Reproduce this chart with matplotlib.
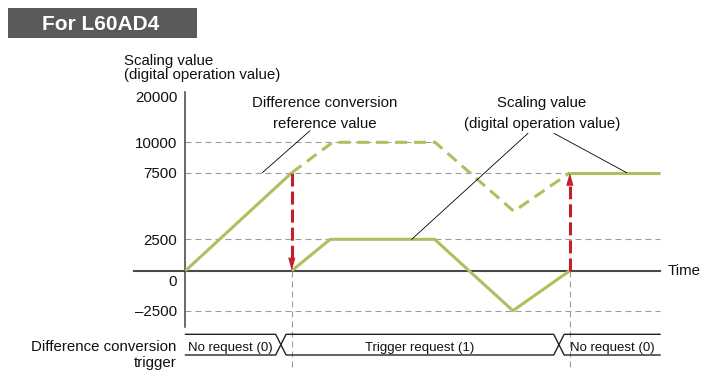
import numpy as np
import matplotlib
matplotlib.use("Agg")
import matplotlib.pyplot as plt
from matplotlib.patches import Rectangle

plt.rcParams['font.family'] = ['Liberation Sans', 'DejaVu Sans']
plt.rcParams['lines.scale_dashes'] = False

# ---------------- data ----------------
t_ramp = [0.0, 22.4]
v_ramp = [0, 7500]
t_scaled = [22.4, 30.5, 52.5, 69.0, 81.0]
v_scaled = [0, 2500, 2500, -2500, 0]
t_hold = [81.0, 100.0]
v_hold = [7500, 7500]
t_unscaled = [22.4, 31.0, 52.6, 69.2, 81.0]
v_unscaled = [7500, 10000, 10000, 4600, 7500]
ref_times = [22.4, 81.0]
arrow_from = [7500, 0]
arrow_to = [0, 7500]
grid_vals = [10000, 7500, 2500, -2500]
grid_ends = [52.6, 100.0, 100.0, 100.0]
tick_vals = [-2500, 2500, 7500, 10000, 20000]
tick_labels = ['\u20132500', '2500', '7500', '10000', '20000']
trigger_times = [20.1, 78.7]
trigger_labels = ['No request (0)', 'Trigger request (1)', 'No request (0)']
t_end = 100.0

# ---------------- layout ----------------
W, H = 706, 371
GREEN = '#a9c25e'
RED = '#c41f2b'
GRAY = '#9c9c9c'
DARK = '#404040'
FS = 10.8

fig = plt.figure(figsize=(W / 100, H / 100), dpi=100)
ax = fig.add_axes([0, 0, 1, 1])
ax.patch.set_alpha(0)

# schematic (non-linear) value axis
sv = [-2500, 0, 2500, 7500, 10000, 20000]
sl = [60.3, 100.3, 131.7, 198.3, 228.7, 274.0]
lo_slope = (sl[1] - sl[0]) / (sv[1] - sv[0])
hi_slope = (sl[-1] - sl[-2]) / (sv[-1] - sv[-2])
AV = np.array([-1e6] + sv + [1e6])
AL = np.array([sl[0] - (sv[0] + 1e6) * lo_slope] + sl + [sl[-1] + (1e6 - sv[-1]) * hi_slope])


def fwd(v):
    return np.interp(v, AV, AL)


def inv(l):
    return np.interp(l, AL, AV)


ax.set_yscale('function', functions=(fwd, inv))
px0, pxs = 185.5, 4.745
ax.set_xlim(-px0 / pxs, (W - px0) / pxs)
ax.set_ylim(inv(0), inv(H))

# axes spines
for s in ['top', 'right']:
    ax.spines[s].set_visible(False)
ax.spines['left'].set_position(('data', 0))
ax.spines['left'].set_bounds(inv(H - 327), inv(H - 92))
ax.spines['left'].set_color(DARK)
ax.spines['left'].set_linewidth(1.1)
ax.spines['bottom'].set_position(('data', 0))
ax.spines['bottom'].set_bounds((134 - px0) / pxs, t_end)
ax.spines['bottom'].set_color('#4a4a4a')
ax.spines['bottom'].set_linewidth(1.5)
ax.set_xticks([])
ax.set_yticks(tick_vals, tick_labels)
ax.tick_params(axis='y', length=0, pad=5.9, labelsize=FS, labelcolor='#111111')
ax.annotate('0', xy=(0, 0), xytext=(-8.2, -10), textcoords='offset pixels',
            ha='right', va='center_baseline', fontsize=FS, color='#111111')

# grid dashed lines
for v, e in zip(grid_vals, grid_ends):
    ax.plot([0, e], [v, v], color=GRAY, lw=0.8, dashes=(4.3, 2.9), zorder=1)
for t in ref_times:
    ax.plot([t, t], [0, inv(0)], color=GRAY, lw=0.8, dashes=(4.3, 2.9), zorder=1, clip_on=False)

# green lines
kw = dict(color=GREEN, lw=2.2, solid_capstyle='butt', zorder=3)
ax.plot(t_ramp, v_ramp, **kw)
ax.plot(t_scaled, v_scaled, **kw)
ax.plot(t_hold, v_hold, **kw)
ax.plot(t_unscaled, v_unscaled, color=GREEN, lw=2.2, dashes=(8.6, 5.0),
        dash_capstyle='butt', zorder=3)

# red arrows
head_px = 13
for t, vf, vt in zip(ref_times, arrow_from, arrow_to):
    sign = 1 if vf > vt else -1
    vb = inv(fwd(vt) + sign * head_px)
    ax.plot([t, t], [vf, vb], color=RED, lw=2.2, dashes=(9.4, 3.6),
            dash_capstyle='butt', zorder=4)
    ax.annotate('', xy=(t, vt), xytext=(t, vb),
                arrowprops=dict(arrowstyle='-|>,head_length=0.94,head_width=0.26',
                                mutation_scale=10, color=RED, lw=0,
                                shrinkA=0, shrinkB=0), zorder=5)

# trigger row
trans = ax.get_xaxis_transform()
top_y, bot_y = (H - 334.3) / H, (H - 355.0) / H
hw = 1.1
xs = [0.0]
ya = [top_y]
yb = [bot_y]
state = 0
for c in trigger_times:
    xs += [c - hw, c + hw]
    a0, b0 = (top_y, bot_y) if state == 0 else (bot_y, top_y)
    ya += [a0, b0]
    yb += [b0, a0]
    state = 1 - state
xs.append(t_end)
ya.append(ya[-1])
yb.append(yb[-1])
ax.plot(xs, ya, color='#222222', lw=1.0, transform=trans, clip_on=False, zorder=3)
ax.plot(xs, yb, color='#222222', lw=1.0, transform=trans, clip_on=False, zorder=3)
bounds = [0.0] + [c for c in trigger_times] + [t_end]
for i, lab in enumerate(trigger_labels):
    l = bounds[i] + (hw if i > 0 else 0)
    r = bounds[i + 1] - (hw if i < len(trigger_labels) - 1 else 0)
    ax.text((l + r) / 2, (H - 351.5) / H, lab, transform=trans, ha='center',
            va='baseline', fontsize=9.5, color='#111111')


def ftext(x, y, s, **k):
    k.setdefault('fontsize', FS)
    k.setdefault('color', '#111111')
    fig.text(x / W, 1 - y / H, s, va='baseline', **k)


# title box
fig.add_artist(Rectangle((8 / W, 1 - 38 / H), 189 / W, 30 / H,
                         transform=fig.transFigure, color='#5a5a5a', lw=0))
ftext(101, 30, 'For L60AD4', ha='center', fontsize=15, fontweight='bold', color='white')

ftext(124, 65, 'Scaling value', ha='left')
ftext(124, 79.5, '(digital operation value)', ha='left')
ftext(325, 107, 'Difference conversion', ha='center')
ftext(324.5, 128, 'reference value', ha='center')
ftext(542, 107, 'Scaling value', ha='center')
ftext(542, 128, '(digital operation value)', ha='center')
ftext(668, 275, 'Time', ha='left')
ftext(176.7, 351, 'Difference conversion', ha='right')
ftext(176.7, 367.5, 'trigger', ha='right')

# leader lines
lead = dict(arrowstyle='-', lw=0.6, color='black', shrinkA=0, shrinkB=0)
ax.annotate('', xy=((262.3 - px0) / pxs, 7500), xytext=(310 / W, 1 - 130.7 / H),
            textcoords='figure fraction', arrowprops=lead)
ax.annotate('', xy=((411.7 - px0) / pxs, 2500), xytext=(528 / W, 1 - 133.3 / H),
            textcoords='figure fraction', arrowprops=lead)
ax.annotate('', xy=((626.7 - px0) / pxs, 7500), xytext=(554 / W, 1 - 133.3 / H),
            textcoords='figure fraction', arrowprops=lead)

fig.savefig('out.png', dpi=100)
